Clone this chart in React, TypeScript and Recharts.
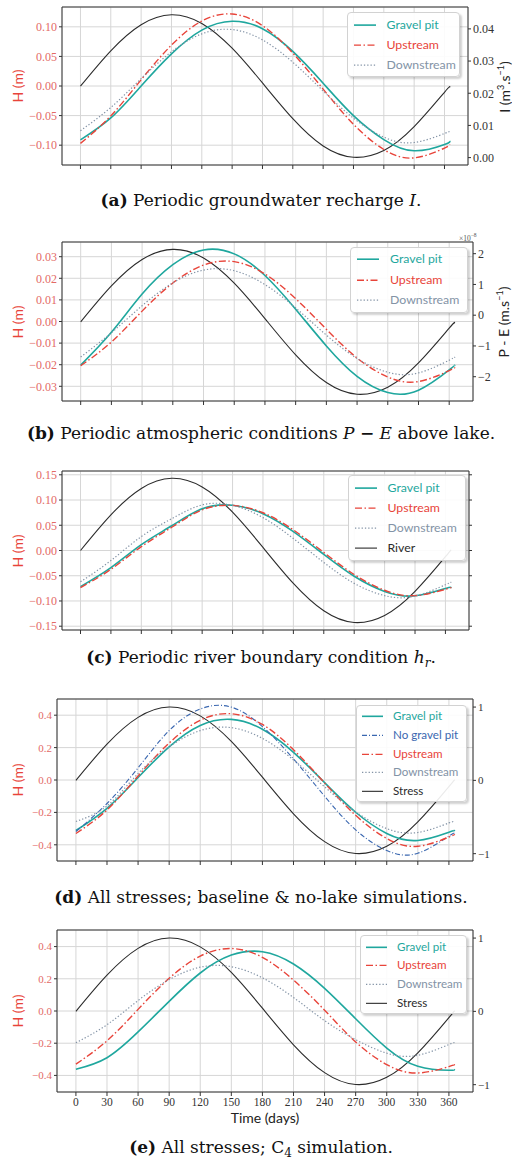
import React from 'react';
import { LineChart, Line, XAxis, YAxis, CartesianGrid, ReferenceArea } from 'recharts';

// sampled days (time axis)
const days = [0, 30, 60, 90, 120, 150, 180, 210, 240, 270, 300, 330, 360, 365];
const dayTicks = [0, 30, 60, 90, 120, 150, 180, 210, 240, 270, 300, 330, 360];

// (a) periodic recharge
const aRecharge = [0.0222, 0.0332, 0.0413, 0.0444, 0.0417, 0.034, 0.0232, 0.0121, 0.0036, 0.0001, 0.0022, 0.0096, 0.0203, 0.0218];
const aGravel = [-0.091, -0.054, 0.0, 0.0543, 0.0945, 0.1095, 0.0968, 0.0584, 0.0047, -0.0501, -0.0905, -0.1095, -0.099, -0.093];
const aUpstream = [-0.097, -0.0505, 0.0105, 0.0691, 0.1098, 0.1217, 0.102, 0.0556, -0.0052, -0.0647, -0.1073, -0.1215, -0.1048, -0.099];
const aDownstream = [-0.0755, -0.0363, 0.0124, 0.0578, 0.0881, 0.0954, 0.0779, 0.0401, -0.0083, -0.0544, -0.0864, -0.0955, -0.0802, -0.077];

// (b) periodic P - E
const bPE = [-0.22, 0.95, 1.81, 2.14, 1.86, 1.04, -0.11, -1.29, -2.19, -2.57, -2.34, -1.55, -0.42, -0.26];
const bGravel = [-0.0202, -0.005, 0.0127, 0.0263, 0.0331, 0.0313, 0.0213, 0.0057, -0.0113, -0.0254, -0.0329, -0.0318, -0.0224, -0.0204];
const bUpstream = [-0.0205, -0.0095, 0.0048, 0.0178, 0.0261, 0.0277, 0.022, 0.0106, -0.0036, -0.0169, -0.0257, -0.0278, -0.0227, -0.0214];
const bDownstream = [-0.0164, -0.0052, 0.0073, 0.0179, 0.0238, 0.0235, 0.0171, 0.0063, -0.0063, -0.0171, -0.0235, -0.0238, -0.0179, -0.0167];

// (c) periodic river stage
const cRiver = [0, 0.0706, 0.1228, 0.143, 0.1258, 0.0759, 0.0061, -0.0652, -0.1195, -0.1427, -0.1286, -0.081, -0.0123, 0];
const cGravel = [-0.0715, -0.034, 0.0116, 0.049, 0.0826, 0.0895, 0.073, 0.0375, -0.0077, -0.051, -0.081, -0.0898, -0.0752, -0.074];
const cUpstream = [-0.0735, -0.0373, 0.0077, 0.046, 0.0805, 0.0893, 0.0748, 0.0408, -0.0038, -0.0475, -0.0788, -0.0895, -0.0769, -0.074];
const cDownstream = [-0.062, -0.0199, 0.0276, 0.063, 0.0904, 0.0894, 0.0651, 0.0237, -0.0237, -0.0651, -0.0894, -0.0904, -0.0678, -0.0635];

// (d) all stresses, baseline & no-lake
const dStress = [0, 0.494, 0.859, 1.0, 0.88, 0.531, 0.043, -0.456, -0.836, -0.998, -0.9, -0.567, -0.086, 0];
const dGravel = [-0.312, -0.175, 0.015, 0.205, 0.337, 0.374, 0.313, 0.171, -0.016, -0.199, -0.33, -0.373, -0.322, -0.314];
const dNoPit = [-0.318, -0.145, 0.075, 0.305, 0.438, 0.45, 0.33, 0.13, -0.1, -0.308, -0.435, -0.452, -0.346, -0.335];
const dUpstream = [-0.33, -0.185, 0.025, 0.228, 0.369, 0.409, 0.343, 0.187, -0.018, -0.218, -0.361, -0.409, -0.352, -0.338];
const dDownstream = [-0.256, -0.16, 0.04, 0.205, 0.305, 0.323, 0.257, 0.124, -0.042, -0.197, -0.3, -0.324, -0.265, -0.26];

// (e) all stresses, C4
const eStress = [0, 0.494, 0.859, 1.0, 0.88, 0.531, 0.043, -0.456, -0.836, -0.998, -0.9, -0.567, -0.086, 0];
const eGravel = [-0.362, -0.29, -0.13, 0.06, 0.236, 0.347, 0.368, 0.292, 0.141, -0.048, -0.23, -0.343, -0.368, -0.362];
const eUpstream = [-0.33, -0.185, 0.01, 0.203, 0.341, 0.388, 0.333, 0.192, 0.005, -0.192, -0.333, -0.385, -0.345, -0.334];
const eDownstream = [-0.197, -0.085, 0.065, 0.195, 0.272, 0.275, 0.206, 0.084, -0.06, -0.178, -0.262, -0.275, -0.208, -0.199];

const TEAL = '#1fa79e';
const RED = '#e8443a';
const GREY = '#8393a6';
const BLUE = '#3a67b0';
const BLACK = '#2b2b2b';
const TICK_RED = '#e36a66';

const SANS = "Lato, 'DejaVu Sans', sans-serif";
const TICK_SERIF = "'Liberation Serif', serif";
const CAPTION_SERIF = "'DejaVu Serif', serif";

const minus = (s: string) => s.replace('-', '\u2212');
const fmt2 = (v: number) => minus(v.toFixed(2));
const fmt1 = (v: number) => minus(v.toFixed(1));
const fmt0 = (v: number) => minus(v.toFixed(0));
const blank = () => '';

type Series = {
  key: string;
  name: string;
  values: number[];
  color: string;
  width: number;
  dash?: string;
  right?: boolean;
};

type PanelProps = {
  top: number;
  height: number;
  box: { left: number; right: number; top: number; bottom: number };
  leftDomain: [number, number];
  leftTicks: number[];
  leftFmt: (v: number) => string;
  rightDomain: [number, number];
  rightTicks: number[];
  rightFmt: (v: number) => string;
  series: Series[];
  tickSize: number;
  showX?: boolean;
};

const Panel = ({ top, height, box, leftDomain, leftTicks, leftFmt, rightDomain, rightTicks, rightFmt, series, tickSize, showX }: PanelProps) => {
  const data = days.map((d, i) => {
    const row: any = { day: d };
    series.forEach((s) => {
      row[s.key] = s.values[i];
    });
    return row;
  });

  return (
    <div style={{ position: 'absolute', left: 0, top, width: 512, height }}>
      <LineChart width={512} height={height} data={data} margin={{ top: box.top - top, right: 0, bottom: 0, left: 0 }}>
        <CartesianGrid stroke="#d6d6d6" strokeWidth={1} />
        <XAxis
          dataKey="day"
          type="number"
          domain={[-18.25, 383.25]}
          ticks={dayTicks}
          interval={0}
          allowDataOverflow
          height={top + height - box.bottom}
          axisLine={false}
          tickLine={{ stroke: '#333' }}
          tickSize={4}
          tickMargin={2}
          tickFormatter={showX ? (v: number) => String(v) : blank}
          tick={{ fill: '#333', fontSize: 11.5, fontFamily: TICK_SERIF }}
        />
        <YAxis
          type="number"
          domain={leftDomain}
          ticks={leftTicks}
          interval={0}
          allowDataOverflow
          width={box.left}
          axisLine={false}
          tickLine={{ stroke: '#333' }}
          tickSize={3}
          tickMargin={2}
          tickFormatter={leftFmt}
          tick={{ fill: TICK_RED, fontSize: tickSize, fontFamily: TICK_SERIF }}
        />
        <YAxis
          yAxisId="right"
          orientation="right"
          type="number"
          domain={rightDomain}
          ticks={rightTicks}
          interval={0}
          allowDataOverflow
          width={512 - box.right}
          axisLine={false}
          tickLine={{ stroke: '#333' }}
          tickSize={3}
          tickMargin={2}
          tickFormatter={rightFmt}
          tick={{ fill: '#333', fontSize: tickSize, fontFamily: TICK_SERIF }}
        />
        {series.map((s) => (
          <Line
            key={s.key}
            yAxisId={s.right ? 'right' : 0}
            dataKey={s.key}
            name={s.name}
            type="natural"
            stroke={s.color}
            strokeWidth={s.width}
            strokeDasharray={s.dash}
            dot={false}
            activeDot={false}
            isAnimationActive={false}
          />
        ))}
        <ReferenceArea
          x1={-18.25}
          x2={383.25}
          y1={leftDomain[0]}
          y2={leftDomain[1]}
          fill="none"
          stroke="#333"
          strokeWidth={1}
          ifOverflow="visible"
        />
      </LineChart>
    </div>
  );
};

type LegendItem = { name: string; color: string; width: number; dash?: string };

const LegendBox = ({ left, top, width, height, firstY, rowH, sampleX, sampleW, textX, fontSize, items }: any) => (
  <div
    style={{
      position: 'absolute',
      left,
      top,
      width,
      height,
      background: 'rgba(255,255,255,0.9)',
      border: '1px solid #d2d2d2',
      borderRadius: 4,
      boxShadow: '2px 2px 2px rgba(0,0,0,0.18)',
      boxSizing: 'border-box',
    }}
  >
    {items.map((it: LegendItem, i: number) => (
      <div key={it.name} style={{ position: 'absolute', left: 0, top: firstY + i * rowH - rowH / 2, height: rowH, width: '100%' }}>
        <svg width={sampleW} height={rowH} style={{ position: 'absolute', left: sampleX, top: 0 }}>
          <line x1={0} y1={rowH / 2} x2={sampleW} y2={rowH / 2} stroke={it.color} strokeWidth={it.width} strokeDasharray={it.dash} />
        </svg>
        <span style={{ position: 'absolute', left: textX, top: 0, lineHeight: `${rowH}px`, fontSize, fontFamily: SANS, color: it.color, whiteSpace: 'nowrap' }}>
          {it.name}
        </span>
      </div>
    ))}
  </div>
);

const VLabel = ({ x, y, color, size, children }: any) => (
  <div
    style={{
      position: 'absolute',
      left: x,
      top: y,
      transform: 'translate(-50%, -50%) rotate(-90deg)',
      color,
      fontSize: size,
      fontFamily: SANS,
      whiteSpace: 'nowrap',
      lineHeight: 1,
    }}
  >
    {children}
  </div>
);

const Caption = ({ y, children }: any) => (
  <div
    style={{
      position: 'absolute',
      left: 0,
      top: y - 11,
      width: 522,
      textAlign: 'center',
      fontFamily: CAPTION_SERIF,
      fontSize: 17,
      lineHeight: '22px',
      color: '#111',
      whiteSpace: 'nowrap',
    }}
  >
    {children}
  </div>
);

const dashUp = '7 2.5 1.5 2.5';
const dashDown = '1.3 2';
const dashBlue = '5 2 1 2';

const gravelS = (values: number[]): Series => ({ key: 'gravel', name: 'Gravel pit', values, color: TEAL, width: 1.6 });
const upS = (values: number[]): Series => ({ key: 'up', name: 'Upstream', values, color: RED, width: 1.4, dash: dashUp });
const downS = (values: number[]): Series => ({ key: 'down', name: 'Downstream', values, color: GREY, width: 1.2, dash: dashDown });

const legend3: LegendItem[] = [
  { name: 'Gravel pit', color: TEAL, width: 1.6 },
  { name: 'Upstream', color: RED, width: 1.4, dash: dashUp },
  { name: 'Downstream', color: GREY, width: 1.2, dash: dashDown },
];

export default function App() {
  return (
    <div style={{ position: 'absolute', left: 0, top: 0, width: 512, height: 1160, background: '#fff', overflow: 'hidden' }}>
      {/* (a) */}
      <Panel
        top={0}
        height={180}
        box={{ left: 62, right: 468, top: 7, bottom: 165 }}
        leftDomain={[-0.1335, 0.1335]}
        leftTicks={[-0.1, -0.05, 0, 0.05, 0.1]}
        leftFmt={fmt2}
        rightDomain={[-0.0023, 0.0468]}
        rightTicks={[0, 0.01, 0.02, 0.03, 0.04]}
        rightFmt={fmt2}
        tickSize={12}
        series={[
          { key: 'rech', name: 'Recharge', values: aRecharge, color: BLACK, width: 1.1, right: true },
          gravelS(aGravel),
          upS(aUpstream),
          downS(aDownstream),
        ]}
      />
      <LegendBox left={347} top={12} width={113} height={65} firstY={12} rowH={20.2} sampleX={6} sampleW={22} textX={38.5} fontSize={12.3} items={legend3} />
      <VLabel x={17.5} y={86} color={RED} size={14}>H (m)</VLabel>
      <VLabel x={504} y={87} color="#222" size={14}>
        I (m<sup style={{ fontSize: 9 }}>3</sup>.s<sup style={{ fontSize: 9 }}>−1</sup>)
      </VLabel>
      <Caption y={200}>
        <b>(a)</b> Periodic groundwater recharge <i>I</i>.
      </Caption>

      {/* (b) */}
      <Panel
        top={225}
        height={190}
        box={{ left: 62, right: 473, top: 242, bottom: 401 }}
        leftDomain={[-0.0368, 0.0368]}
        leftTicks={[-0.03, -0.02, -0.01, 0, 0.01, 0.02, 0.03]}
        leftFmt={fmt2}
        rightDomain={[-2.79, 2.38]}
        rightTicks={[-2, -1, 0, 1, 2]}
        rightFmt={fmt0}
        tickSize={12}
        series={[
          { key: 'pe', name: 'P - E', values: bPE, color: BLACK, width: 1.1, right: true },
          gravelS(bGravel),
          upS(bUpstream),
          downS(bDownstream),
        ]}
      />
      <LegendBox left={350} top={247} width={118} height={66} firstY={11.5} rowH={20.4} sampleX={6} sampleW={22} textX={39} fontSize={12.3} items={legend3} />
      <VLabel x={17.5} y={322} color={RED} size={14}>H (m)</VLabel>
      <VLabel x={502.5} y={322} color="#222" size={14}>
        P - E (m.s<sup style={{ fontSize: 9 }}>−1</sup>)
      </VLabel>
      <div style={{ position: 'absolute', left: 459, top: 232, fontSize: 7.5, fontFamily: TICK_SERIF, color: '#555' }}>
        ×10<sup style={{ fontSize: 5.5 }}>−8</sup>
      </div>
      <Caption y={433}>
        <b>(b)</b> Periodic atmospheric conditions <i>P</i> <b>−</b> <i>E</i> above lake.
      </Caption>

      {/* (c) */}
      <Panel
        top={455}
        height={190}
        box={{ left: 62, right: 469, top: 471, bottom: 630 }}
        leftDomain={[-0.1575, 0.1575]}
        leftTicks={[-0.15, -0.1, -0.05, 0, 0.05, 0.1, 0.15]}
        leftFmt={fmt2}
        rightDomain={[-0.1575, 0.1575]}
        rightTicks={[-0.15, -0.1, -0.05, 0, 0.05, 0.1, 0.15]}
        rightFmt={blank}
        tickSize={12}
        series={[
          { key: 'river', name: 'River', values: cRiver, color: BLACK, width: 1.1 },
          gravelS(cGravel),
          upS(cUpstream),
          downS(cDownstream),
        ]}
      />
      <LegendBox
        left={348}
        top={475}
        width={118}
        height={86}
        firstY={11.7}
        rowH={20.2}
        sampleX={5.5}
        sampleW={22}
        textX={38.5}
        fontSize={12.3}
        items={[...legend3, { name: 'River', color: BLACK, width: 1.1 }]}
      />
      <VLabel x={17.5} y={551} color={RED} size={14}>H (m)</VLabel>
      <Caption y={657}>
        <b>(c)</b> Periodic river boundary condition <i>h</i>
        <sub style={{ fontSize: 12 }}>
          <i>r</i>
        </sub>
        .
      </Caption>

      {/* (d) */}
      <Panel
        top={685}
        height={190}
        box={{ left: 57, right: 473, top: 699, bottom: 861 }}
        leftDomain={[-0.5, 0.5]}
        leftTicks={[-0.4, -0.2, 0, 0.2, 0.4]}
        leftFmt={fmt1}
        rightDomain={[-1.1, 1.11]}
        rightTicks={[-1, 0, 1]}
        rightFmt={fmt0}
        tickSize={11}
        series={[
          { key: 'stress', name: 'Stress', values: dStress, color: BLACK, width: 1.1, right: true },
          gravelS(dGravel),
          { key: 'nopit', name: 'No gravel pit', values: dNoPit, color: BLUE, width: 1.1, dash: dashBlue },
          upS(dUpstream),
          downS(dDownstream),
        ]}
      />
      <LegendBox
        left={356}
        top={705}
        width={111}
        height={97}
        firstY={10.7}
        rowH={18.65}
        sampleX={5}
        sampleW={21}
        textX={36}
        fontSize={11.6}
        items={[
          legend3[0],
          { name: 'No gravel pit', color: BLUE, width: 1.1, dash: dashBlue },
          legend3[1],
          legend3[2],
          { name: 'Stress', color: BLACK, width: 1.1 },
        ]}
      />
      <VLabel x={17.5} y={780} color={RED} size={14}>H (m)</VLabel>
      <Caption y={897}>
        <b>(d)</b> All stresses; baseline &amp; no-lake simulations.
      </Caption>

      {/* (e) */}
      <Panel
        top={915}
        height={212}
        box={{ left: 57, right: 473, top: 930, bottom: 1092 }}
        leftDomain={[-0.503, 0.503]}
        leftTicks={[-0.4, -0.2, 0, 0.2, 0.4]}
        leftFmt={fmt1}
        rightDomain={[-1.1, 1.11]}
        rightTicks={[-1, 0, 1]}
        rightFmt={fmt0}
        tickSize={11}
        showX
        series={[
          { key: 'stress', name: 'Stress', values: eStress, color: BLACK, width: 1.1, right: true },
          gravelS(eGravel),
          upS(eUpstream),
          downS(eDownstream),
        ]}
      />
      <LegendBox
        left={360}
        top={935}
        width={107}
        height={79}
        firstY={11}
        rowH={18.67}
        sampleX={5}
        sampleW={21}
        textX={36}
        fontSize={11.6}
        items={[...legend3, { name: 'Stress', color: BLACK, width: 1.1 }]}
      />
      <VLabel x={17.5} y={1011} color={RED} size={14}>H (m)</VLabel>
      <div style={{ position: 'absolute', left: 265, top: 1117, transform: 'translate(-50%, -50%)', fontFamily: SANS, fontSize: 14, color: '#222', whiteSpace: 'nowrap' }}>
        Time (days)
      </div>
      <Caption y={1147}>
        <b>(e)</b> All stresses; C<sub style={{ fontSize: 12 }}>4</sub> simulation.
      </Caption>
    </div>
  );
}
